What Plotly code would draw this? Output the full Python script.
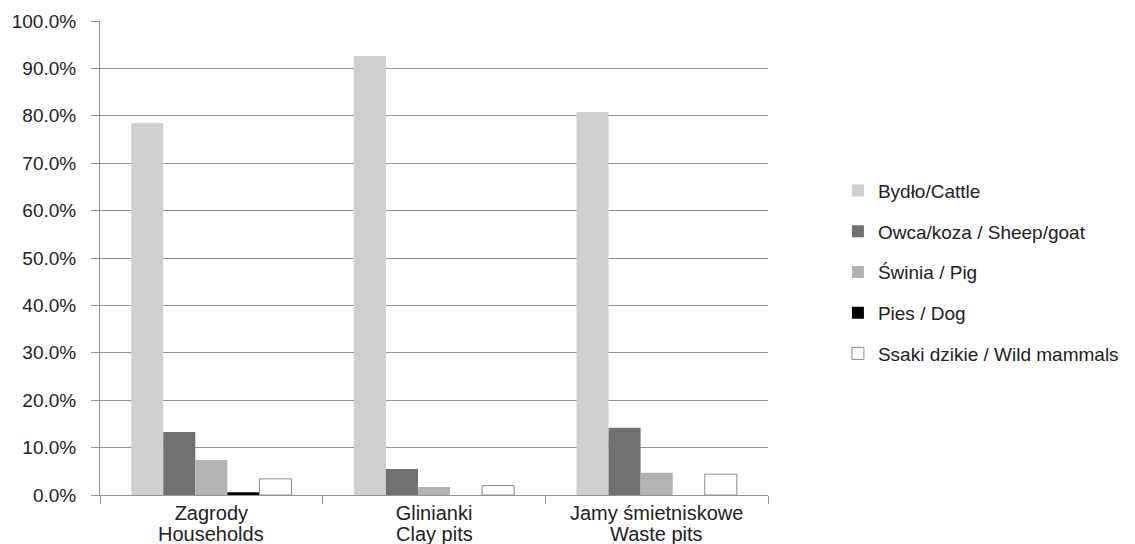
import plotly.graph_objects as go

# Share of identified animal bones by context type
categories = ["Zagrody", "Glinianki", "Jamy śmietniskowe"]
categories_en = ["Households", "Clay pits", "Waste pits"]

series_names = [
    "Bydło/Cattle",
    "Owca/koza / Sheep/goat",
    "Świnia / Pig",
    "Pies / Dog",
    "Ssaki dzikie / Wild mammals",
]
cattle = [0.785, 0.926, 0.808]
sheep_goat = [0.133, 0.055, 0.142]
pig = [0.074, 0.017, 0.047]
dog = [0.006, 0.0, 0.0]
wild = [0.034, 0.020, 0.044]

series_values = [cattle, sheep_goat, pig, dog, wild]
fill_colors = ["#d0d0d0", "#717171", "#b3b3b3", "#000000", "#ffffff"]
line_colors = ["#d0d0d0", "#717171", "#b3b3b3", "#000000", "#8a8a8a"]
line_widths = [0, 0, 0, 0, 1]

FONT = "Liberation Sans, Arial, Helvetica, sans-serif"
TEXT = "#222222"
GRID = "#949494"

fig = go.Figure()
for i, (name, vals) in enumerate(zip(series_names, series_values)):
    fig.add_trace(go.Bar(
        x=categories,
        y=vals,
        name=name,
        legendgroup=name,
        marker=dict(color=fill_colors[i],
                    line=dict(color=line_colors[i], width=line_widths[i])),
    ))

# English names as a second line under each Polish category label
for cat, en in zip(categories, categories_en):
    fig.add_annotation(
        x=cat, xref="x", y=0, yref="paper",
        text=en, showarrow=False,
        yanchor="middle", yshift=-39,
        font=dict(family=FONT, size=20, color=TEXT),
    )

fig.update_layout(
    width=1135,
    height=544,
    margin=dict(l=100, r=366, t=21, b=49),
    paper_bgcolor="white",
    plot_bgcolor="white",
    barmode="group",
    bargap=0.28,
    bargroupgap=0,
    font=dict(family=FONT, color=TEXT, size=17),
    legend=dict(
        x=1.103, xanchor="left",
        y=0.47, yanchor="middle",
        traceorder="grouped",
        tracegroupgap=13,
        font=dict(family=FONT, size=19, color=TEXT),
        bgcolor="rgba(0,0,0,0)",
    ),
    xaxis=dict(
        automargin=False,
        showline=True, linecolor=GRID, linewidth=1,
        ticks="outside", ticklen=8, tickcolor=GRID,
        tickson="boundaries",
        tickfont=dict(family=FONT, size=20, color=TEXT),
        showgrid=False,
    ),
    yaxis=dict(
        automargin=False,
        range=[0, 1.0],
        dtick=0.1,
        tickformat=".1%",
        showline=True, linecolor=GRID, linewidth=1,
        ticks="outside", ticklen=8, tickcolor=GRID,
        showgrid=True, gridcolor=GRID, gridwidth=1,
        zeroline=False,
        ticklabelstandoff=11,
        tickfont=dict(family=FONT, size=19, color=TEXT),
    ),
)

fig.write_html("out.html")
